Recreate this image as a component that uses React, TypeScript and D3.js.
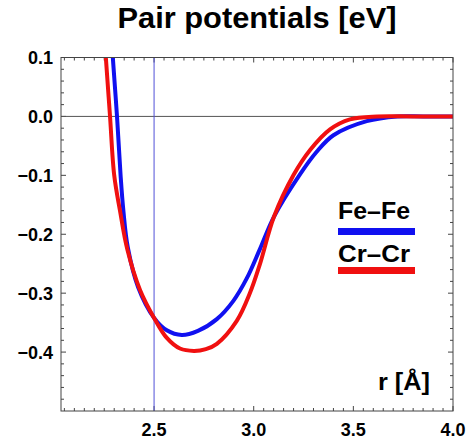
import React from "react";
import * as d3 from "d3";

// pair potential curves: [r in Å, V in eV]
const feFe: [number, number][] = [
  [2.27, 0.21], [2.293, 0.1], [2.314, 0.0], [2.332, -0.1], [2.346, -0.16],
  [2.368, -0.222], [2.42, -0.29], [2.5, -0.342], [2.564, -0.363],
  [2.639, -0.371], [2.72, -0.364], [2.815, -0.344], [2.898, -0.313],
  [2.965, -0.275], [3.03, -0.226], [3.102, -0.17], [3.233, -0.098],
  [3.316, -0.06], [3.4, -0.032], [3.567, -0.008], [3.72, 0], [3.85, 0], [4.0, 0],
];

const crCr: [number, number][] = [
  [2.23, 0.24], [2.258, 0.1], [2.279, 0.0], [2.3, -0.1], [2.329, -0.16],
  [2.366, -0.226], [2.43, -0.295], [2.5, -0.342], [2.564, -0.376],
  [2.63, -0.394], [2.7, -0.398], [2.76, -0.395], [2.815, -0.386],
  [2.915, -0.347], [2.982, -0.299], [3.03, -0.252], [3.102, -0.17],
  [3.199, -0.1], [3.283, -0.057], [3.383, -0.022], [3.483, -0.005],
  [3.62, 0], [3.8, 0], [4.0, 0],
];

const xTicks = [2.5, 3.0, 3.5, 4.0];
const yTicks = [0.1, 0.0, -0.1, -0.2, -0.3, -0.4];
const series = [
  { name: "Fe\u2013Fe", data: feFe, color: "#1010f0" },
  { name: "Cr\u2013Cr", data: crCr, color: "#f01010" },
];
const markerR = 2.5;

const left = 61, right = 453, top = 57.5, bottom = 411;

export default function App() {
  const x = d3.scaleLinear().domain([2.033, 4.0]).range([left, right]);
  const y = d3.scaleLinear().domain([-0.5, 0.1]).range([bottom, top]);

  const line = d3
    .line<[number, number]>()
    .x((d) => x(d[0]))
    .y((d) => y(d[1]))
    .curve(d3.curveCatmullRom.alpha(0.5));

  const xMinor = d3.range(2.05, 4.0001, 0.05);
  const yMinor = d3.range(-0.48, 0.1001, 0.02);
  const font = "'Liberation Sans', Arial, sans-serif";

  return (
    <svg width={472} height={443} style={{ position: "absolute", left: 0, top: 0 }}>
      <defs>
        <clipPath id="plot">
          <rect x={left} y={top} width={right - left} height={bottom - top} />
        </clipPath>
      </defs>
      <rect width={472} height={443} fill="#fff" />

      <text x={257} y={28} textAnchor="middle" fontFamily={font} fontWeight="bold"
        fontSize={29} textLength={279} lengthAdjust="spacingAndGlyphs">
        Pair potentials [eV]
      </text>

      {/* ticks on all four sides, pointing in */}
      <g stroke="#444" strokeWidth={1}>
        {xMinor.map((t, i) => {
          const major = xTicks.some((m) => Math.abs(m - t) < 1e-6);
          const len = major ? 5 : 3;
          return (
            <g key={"x" + i}>
              <line x1={x(t)} x2={x(t)} y1={bottom} y2={bottom - len} />
              <line x1={x(t)} x2={x(t)} y1={top} y2={top + len} />
            </g>
          );
        })}
        {yMinor.map((t, i) => {
          const major = yTicks.some((m) => Math.abs(m - t) < 1e-6);
          const len = major ? 5 : 3;
          return (
            <g key={"y" + i}>
              <line x1={left} x2={left + len} y1={y(t)} y2={y(t)} />
              <line x1={right} x2={right - len} y1={y(t)} y2={y(t)} />
            </g>
          );
        })}
      </g>

      {/* zero line and marker at r = 2.5 */}
      <line x1={left} x2={right} y1={y(0)} y2={y(0)} stroke="#555" strokeWidth={1} />
      <line x1={x(markerR)} x2={x(markerR)} y1={top} y2={bottom} stroke="#5050d8" strokeWidth={1} />

      <g clipPath="url(#plot)">
        {series.map((s) => (
          <path key={s.name} d={line(s.data) ?? ""} fill="none" stroke={s.color}
            strokeWidth={4} strokeLinejoin="round" />
        ))}
      </g>

      <rect x={left} y={top} width={right - left} height={bottom - top}
        fill="none" stroke="#444" strokeWidth={1} />

      <g fontFamily={font} fontWeight="bold" fontSize={18}>
        {yTicks.map((t) => (
          <text key={t} x={53} y={y(t)} dy="0.36em" textAnchor="end">
            {t < 0 ? "\u2212" + Math.abs(t).toFixed(1) : t.toFixed(1)}
          </text>
        ))}
        {xTicks.map((t) => (
          <text key={t} x={x(t)} y={436} textAnchor="middle">
            {t.toFixed(1)}
          </text>
        ))}
      </g>

      {/* legend */}
      {series.map((s, i) => (
        <g key={s.name}>
          <text x={338} y={219 + i * 43} fontFamily={font} fontWeight="bold"
            fontSize={23} textLength={72} lengthAdjust="spacingAndGlyphs">
            {s.name}
          </text>
          <rect x={338} y={228 + i * 39} width={77} height={7} fill={s.color} />
        </g>
      ))}

      <text x={378} y={390} fontFamily={font} fontWeight="bold" fontSize={23}
        textLength={52} lengthAdjust="spacingAndGlyphs">
        r [Å]
      </text>
    </svg>
  );
}
